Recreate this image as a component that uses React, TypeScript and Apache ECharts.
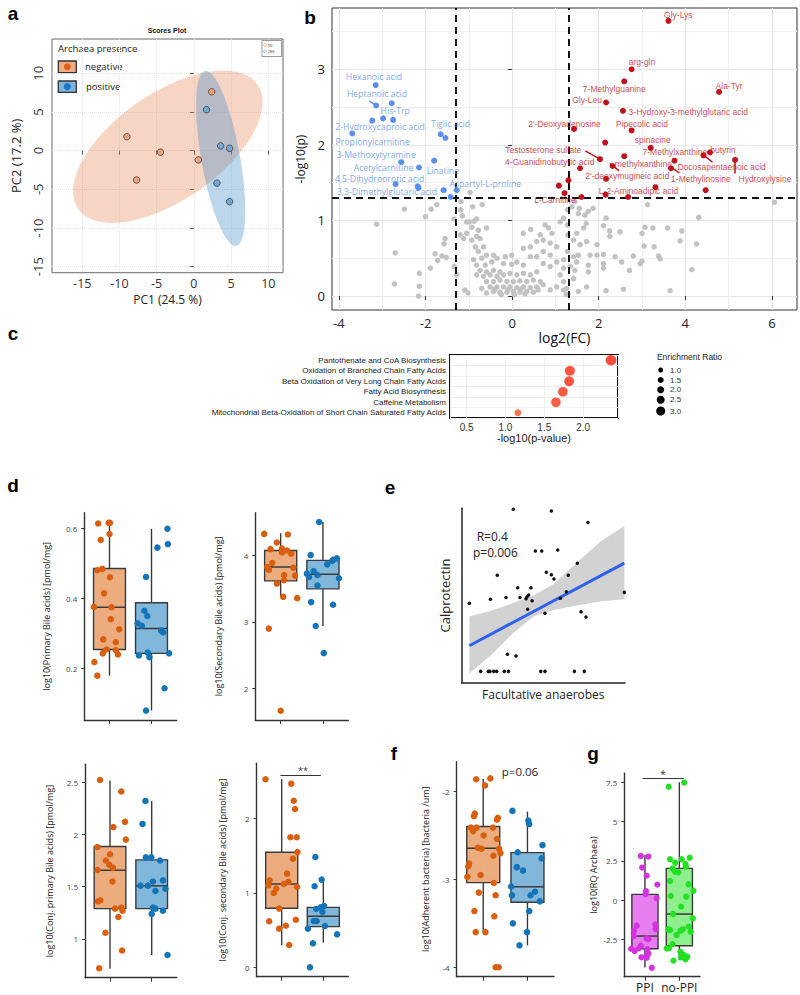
import React, { useEffect, useRef } from "react";
import * as echarts from "echarts";

/* ================= DATA ================= */
// ---- a: PCA scores plot ----
const pcaNoX = [-9.0, -7.7, -4.5, 0.6, 2.4];
const pcaNoY = [1.8, -3.8, -0.2, -1.2, 7.6];
const pcaYesX = [1.7, 3.6, 4.8, 3.1, 4.8];
const pcaYesY = [5.3, 0.6, 0.3, -4.2, -6.6];
const pcaTicks = [-15, -10, -5, 0, 5, 10];
// confidence ellipses: centre x, centre y, semi-major, semi-minor, angle (deg)
const ellipseNo = [-3.5, 0.5, 14.5, 7.0, 33];
const ellipseYes = [3.6, -1.0, 11.5, 2.6, 100.5];

// ---- b: volcano plot ----
const fcThresholds = [-1.3, 1.3];
const pThreshold = 1.301;
const volcXTicks = [-4, -2, 0, 2, 4, 6];
const volcYTicks = [0, 1, 2, 3];
const grayPts: [number, number][] = [
  [-3.13,0.95],[-2.70,0.57],[-2.72,0.16],[-2.49,1.15],[-2.14,0.30],[-2.14,0.13],[-2.16,0.0],[-2.0,1.05],[-1.87,1.15],[-1.74,1.21],
  [-1.89,0.37],[-1.78,0.56],[-1.72,0.47],[-1.62,0.53],[-1.55,0.76],[-1.57,0.69],[-1.52,0.51],[-1.34,0.39],[-1.28,0.28],[-1.34,1.02],
  [-1.18,1.25],[-1.19,1.14],[-1.15,1.06],[-1.05,0.98],[-1.09,0.08],[-1.02,0.04],[-0.97,1.37],[-0.91,1.18],[-0.69,1.21],[-0.88,0.99],
  [-0.82,1.02],[-0.99,0.98],[-0.93,0.91],[-1.05,0.83],[-1.20,0.81],[-1.12,0.76],[-0.78,0.87],[-0.59,0.90],[-0.82,0.79],[-0.74,0.76],
  [-0.93,0.74],[-0.85,0.65],[-0.66,0.65],[-0.78,0.59],[-0.59,0.54],[-0.43,0.54],[-0.70,0.50],[-0.89,0.48],[-0.82,0.41],[-0.62,0.41],
  [-0.47,0.45],[-0.35,0.50],[-0.16,0.52],[-0.01,0.54],[-0.20,0.43],[-0.01,0.42],[0.11,0.45],[0.26,0.41],[-0.74,0.34],[-0.59,0.32],
  [-0.43,0.34],[-0.28,0.32],[-0.82,0.28],[-0.66,0.26],[-0.51,0.28],[-0.35,0.26],[-0.20,0.28],[-0.05,0.30],[0.11,0.28],[0.26,0.30],
  [0.42,0.28],[0.57,0.32],[-0.59,0.19],[-0.43,0.19],[-0.28,0.21],[-0.12,0.19],[0.03,0.19],[0.18,0.20],[0.34,0.19],[0.49,0.21],
  [0.65,0.19],[-0.51,0.12],[-0.35,0.12],[-0.20,0.12],[-0.05,0.12],[0.11,0.11],[0.26,0.12],[0.42,0.11],[0.57,0.12],[0.72,0.15],
  [-0.43,0.06],[-0.28,0.05],[-0.12,0.05],[0.03,0.06],[0.18,0.05],[0.34,0.06],[0.49,0.05],[-0.59,0.04],[-0.70,0.10],[0.88,0.08],
  [1.03,0.12],[1.19,0.08],[1.25,0.02],[1.53,0.06],[1.72,0.12],[2.17,0.07],[2.57,0.09],[3.65,0.07],[0.43,0.88],[0.26,0.83],
  [0.26,0.63],[0.42,0.65],[0.57,0.72],[0.65,0.81],[0.76,0.94],[0.84,0.90],[0.92,0.83],[0.72,0.74],[0.88,0.70],[1.03,0.65],
  [0.72,0.59],[0.57,0.52],[0.88,0.54],[0.42,0.52],[1.03,0.45],[1.19,0.48],[0.72,0.43],[0.88,0.39],[1.19,0.37],[1.34,0.39],
  [1.45,0.34],[1.11,0.98],[1.19,1.03],[1.28,0.94],[1.28,1.14],[1.38,1.18],[1.45,1.25],[1.55,1.16],[1.53,1.09],[1.68,1.07],
  [1.76,1.12],[1.87,1.16],[1.71,0.96],[1.65,0.90],[1.49,0.83],[1.42,0.74],[1.57,0.68],[1.72,0.72],[1.96,0.68],[1.80,0.54],
  [1.96,0.54],[2.11,0.55],[1.53,0.54],[1.76,0.41],[1.76,0.32],[2.11,0.43],[2.11,0.37],[1.42,0.23],[1.19,0.19],[2.17,1.03],
  [2.11,0.93],[2.25,0.86],[2.26,0.79],[2.49,0.85],[2.38,0.52],[2.53,0.45],[2.71,0.34],[2.80,0.53],[2.96,0.43],[3.0,0.46],
  [3.0,0.83],[3.07,0.91],[3.05,0.66],[3.13,1.21],[3.25,0.90],[3.28,0.65],[3.38,0.53],[3.42,0.49],[3.59,0.90],[3.88,0.73],
  [3.92,0.86],[4.15,0.35],[4.26,0.69],[4.31,1.04],[6.06,1.24],[1.29,0.81],[1.28,0.59],[1.42,0.52],[1.49,0.45],[1.11,0.28],
  [1.26,0.10],[-0.25,0.02],[0.05,0.02],[0.3,0.03],[-0.4,0.09],[0.2,0.09],[-0.1,0.08],[0.6,0.08]
];
const blueX = [-3.15,-3.14,-2.78,-3.23,-2.98,-2.75,-3.69,-1.65,-1.54,-2.56,-1.80,-2.15,-2.69,-2.18,-2.16,-1.58,-1.28,-1.42];
const blueY = [2.79,2.52,2.55,2.32,2.35,2.33,2.15,2.14,2.09,1.77,1.79,1.70,1.48,1.45,1.43,1.40,1.40,1.31];
const redX = [3.61,2.76,2.59,4.78,2.17,2.56,1.43,2.76,2.15,3.20,2.59,2.03,2.32,3.75,4.42,4.57,5.15,3.67,1.57,2.17,1.30,1.08,3.31,4.47,1.21,2.16,1.60,2.68];
const redY = [3.64,3.00,2.84,2.70,2.56,2.45,2.21,2.19,2.03,1.96,1.85,1.81,1.72,1.79,1.86,1.90,1.80,1.69,1.69,1.55,1.53,1.46,1.44,1.40,1.36,1.34,1.31,1.31];
const blueLabels = ["Hexanoic acid","Heptanoic acid","His-Trp","2-Hydroxycaproic acid","Tiglic acid","Propionylcarnitine","3-Methoxytyramine","Acetylcarnitine","Linatine","4,5-Dihydroorotic acid","Aspartyl-L-proline","3,3-Dimethylglutaric acid"];
const blueLabelX = [-3.19,-3.12,-2.70,-3.05,-1.42,-3.22,-3.14,-2.97,-1.60,-3.06,-0.62,-2.89];
const blueLabelY = [2.90,2.67,2.45,2.24,2.27,2.04,1.87,1.70,1.66,1.545,1.48,1.37];
const redLabels = ["Gly-Lys","arg-gln","7-Methylguanine","Ala-Tyr","Gly-Leu","3-Hydroxy-3-methylglutaric acid","2'-Deoxyadenosine","Pipecolic acid","spinacine","7-Methylxanthine","butyrin","Testosterone sulfate","methylxanthine","4-Guanidinobutyric acid","Docosapentaenoic acid","2'-deoxymugineic acid","1-Methylinosine","Hydroxylysine","L-2-Aminoadipic acid","L-Carnitine"];
const redLabelX = [3.84,3.0,2.36,5.01,1.73,4.07,1.21,3.0,3.25,3.76,4.87,0.72,3.03,0.87,4.84,2.66,4.36,5.84,2.92,0.99];
const redLabelY = [3.72,3.09,2.74,2.78,2.59,2.43,2.28,2.28,2.06,1.90,1.93,1.93,1.75,1.77,1.71,1.59,1.55,1.55,1.39,1.27];
// label connector segments [x1, y1, x2, y2]
const blueConnectors = [[-3.30,2.58,-3.14,2.52]];
const redConnectors = [[1.69,1.92,2.03,1.81],[2.26,1.75,2.47,1.66],[4.39,1.88,4.63,1.77],[5.15,1.80,5.15,1.62],[3.65,1.71,3.86,1.63]];

// ---- c: enrichment ----
const pathwayNames = ["Pantothenate and CoA Biosynthesis","Oxidation of Branched Chain Fatty Acids","Beta Oxidation of Very Long Chain Fatty Acids","Fatty Acid Biosynthesis","Caffeine Metabolism","Mitochondrial Beta-Oxidation of Short Chain Saturated Fatty Acids"];
const pathwayLogP = [2.36, 1.83, 1.82, 1.74, 1.65, 1.16];
const pathwayRatio = [3.8, 3.5, 3.4, 3.3, 3.3, 1.9];
const pathwayColor = ["#ff1e0a", "#ff2a10", "#ff2a10", "#ff3014", "#ff3418", "#f2521c"];
const ratioLegend = [1.0, 1.5, 2.0, 2.5, 3.0];
const enrichTicks = [0.5, 1.0, 1.5, 2.0];

// ---- d: bile acids (box stats: min, q1, median, q3, max) ----
const primNegX = [0.73,0.98,1.01,1.0,0.79,0.83,0.71,1.01,0.87,0.63,1.05,1.03,1.23,0.85,1.15,0.93,1.15,0.84,1.2,0.64,0.71];
const primNegY = [0.614,0.616,0.616,0.584,0.567,0.484,0.48,0.46,0.414,0.375,0.374,0.34,0.311,0.282,0.274,0.253,0.251,0.242,0.239,0.217,0.178];
const primPosX = [2.38,2.39,2.14,1.87,1.83,1.9,1.67,1.77,2.23,2.28,1.91,1.7,1.95,2.42,2.31,1.87];
const primPosY = [0.599,0.555,0.545,0.461,0.364,0.349,0.328,0.321,0.307,0.302,0.244,0.236,0.231,0.242,0.142,0.078];
const primBoxNeg = [0.178, 0.253, 0.374, 0.485, 0.615];
const primBoxPos = [0.078, 0.242, 0.313, 0.387, 0.599];

const secNegX = [0.61,1.17,0.91,0.76,1.03,1.15,1.03,1.25,0.8,0.68,0.72,1.3,1.08,1.34,1.08,0.91,1.06,1.39,0.72,1.0];
const secNegY = [4.33,4.32,4.2,4.1,4.11,4.08,4.05,4.03,3.89,3.83,3.79,3.82,3.71,3.7,3.63,3.58,3.38,3.36,2.9,1.66];
const secPosX = [1.91,1.71,2.24,2.33,2.22,2.1,1.78,1.62,1.87,1.67,2.38,1.87,1.72,2.24,1.83,2.02];
const secPosY = [4.51,4.01,3.94,3.96,3.92,3.87,3.77,3.73,3.71,3.68,3.66,3.55,3.3,3.26,2.94,2.53];
const secBoxNeg = [3.38, 3.62, 3.83, 4.08, 4.34];
const secBoxPos = [2.94, 3.5, 3.72, 3.93, 4.51];

const cpNegX = [0.76,1.27,1.36,1.08,1.38,0.7,1.0,0.9,0.98,1.07,0.7,1.06,0.71,0.77,1.12,1.27,1.3,1.2,0.89,1.29,0.74];
const cpNegY = [2.52,2.41,2.12,2.07,1.95,1.88,1.81,1.75,1.71,1.68,1.66,1.55,1.36,1.37,1.29,1.3,1.27,1.21,1.06,0.89,0.72];
const cpPosX = [1.85,1.78,1.86,1.99,2.2,2.03,2.27,1.91,1.73,2.09,2.33,2.03,2.09,2.27,2.0,2.38];
const cpPosY = [2.32,2.1,1.78,1.78,1.75,1.55,1.56,1.51,1.51,1.46,1.48,1.3,1.29,1.27,1.24,0.847];
const cpBoxNeg = [0.716, 1.29, 1.657, 1.884, 2.516];
const cpBoxPos = [0.847, 1.29, 1.51, 1.756, 2.32];

const csNegX = [0.61,1.23,1.29,1.32,1.21,1.36,1.38,1.27,0.71,1.13,1.16,1.05,0.68,1.37,0.87,0.81,0.94,0.7,1.34,0.94,1.1,1.18];
const csNegY = [2.53,2.47,2.24,2.13,1.75,1.75,1.55,1.46,1.17,1.26,1.15,1.12,1.1,1.08,1.06,1.0,0.79,0.62,0.64,0.52,0.56,0.3];
const csPosX = [1.81,1.96,1.79,1.83,2.02,1.94,1.98,1.77,1.84,2.04,1.63,2.33,1.75,1.68];
const csPosY = [1.484,1.18,1.09,0.785,0.825,0.807,0.744,0.623,0.623,0.556,0.52,0.444,0.323,0.0];
const csBoxNeg = [0.296, 0.794, 1.121, 1.547, 2.53];
const csBoxPos = [0.332, 0.547, 0.686, 0.807, 1.166];
const csSignif = [0.97, 1.94, 2.58];

// ---- e: correlation ----
const eX = [4.7,31.6,54.9,77.3,45.1,49.0,58.8,70.8,21.8,51.8,54.9,56.5,65.3,34.3,42.4,17.6,27.1,35.7,39.4,40.0,41.0,43.1,60.4,64.1,99.6,40.4,51.0,73.1,76.1,28.0,33.3,11.6,16.3,17.3,19.6,21.4,26.1,28.6,48.4,51.0,69.0,75.1];
const eY = [45.5,99.4,98.5,91.8,75.5,75.5,76.1,68.5,61.6,63.3,61.9,59.5,61.6,54.5,54.5,47.8,48.9,48.9,48.2,49.3,50.3,47.0,48.4,52.2,51.8,42.1,39.8,40.7,37.7,16.3,15.3,6.5,6.5,6.5,6.5,6.5,6.5,6.5,6.5,6.5,6.5,6.5];
const fitX = [4.7, 99.6];
const fitY = [21.2, 68.6];
const bandX = [4.7, 17, 31, 44, 56, 72, 85, 99.6];
const bandLo = [5.4, 14.9, 28.0, 37.9, 41.7, 44.6, 46.5, 47.8];
const bandHi = [37.9, 41.0, 45.5, 50.0, 56.5, 70.0, 81.0, 89.9];

// ---- f: adherent bacteria ----
const adNegX = [0.84,1.16,1.04,0.81,0.79,1.33,1.31,0.72,0.85,0.77,1.22,1.01,1.31,0.88,0.96,1.36,1.39,1.23,0.68,0.66,0.94,0.64,1.24,0.9,1.28,0.8,1.25,0.83,1.05,1.28,1.35];
const adNegY = [-1.86,-1.85,-1.93,-2.25,-2.28,-2.3,-2.32,-2.41,-2.41,-2.45,-2.41,-2.5,-2.54,-2.64,-2.65,-2.65,-2.7,-2.73,-2.82,-2.85,-2.95,-2.97,-3.04,-3.15,-3.18,-3.36,-3.42,-3.6,-3.6,-4.0,-4.0];
const adPosX = [1.66,2.02,2.04,2.34,1.78,2.32,1.76,1.9,1.63,2.17,2.07,1.65,2.28,2.04,1.67,1.99,1.82];
const adPosY = [-2.22,-2.33,-2.37,-2.61,-2.69,-2.76,-2.86,-2.9,-3.08,-3.14,-3.18,-3.18,-3.25,-3.36,-3.5,-3.6,-3.75];
const adBoxNeg = [-3.6, -3.036, -2.645, -2.398, -1.856];
const adBoxPos = [-3.75, -3.26, -3.082, -2.695, -2.228];

// ---- g: RQ Archaea ----
const groupLabels = ["PPI", "no-PPI"];
const ppiX = [0.88,1.10,0.92,1.05,1.36,1.03,1.02,1.34,0.76,0.68,0.68,1.30,1.31,1.05,1.10,0.88,0.82,0.60,0.70,1.07,1.10,1.05,0.90,1.05,1.20];
const ppiY = [2.82,2.78,2.08,1.57,1.0,0.59,0.38,0.13,-1.61,-1.95,-2.27,-1.53,-1.82,-2.42,-2.46,-2.88,-3.05,-3.07,-3.22,-3.11,-3.37,-3.52,-3.62,-3.64,-4.28];
const noPpiX = [1.69,2.14,2.30,1.73,2.07,1.88,2.18,2.19,1.80,1.88,1.97,1.73,2.27,2.41,1.75,2.20,2.05,1.82,2.39,1.68,1.73,2.27,2.10,2.03,2.33,1.92,1.80,1.70,1.63,2.03,2.13,2.23,2.18,1.83,2.05];
const noPpiY = [7.22,7.48,2.71,2.61,2.61,2.39,2.31,2.14,2.03,1.82,1.78,1.23,1.02,0.61,0.28,0.23,-0.4,-0.87,-1.14,-1.84,-1.89,-1.67,-1.84,-1.93,-1.99,-2.2,-2.78,-3.05,-3.05,-3.26,-3.47,-3.58,-3.75,-3.83,-3.62];
const ppiBox = [-4.26, -3.07, -2.27, 0.38, 2.88];
const noPpiBox = [-3.79, -2.88, -0.87, 2.03, 7.5];
const rqSignif = [0.93, 2.13, 7.75];

/* ================= HELPERS ================= */
const SANS = "Liberation Sans";
const OPEN = "Open Sans";
const ORANGE = "#d95f0e";
const BLUE = "#1474b8";
const ORANGE_FILL = "#edac7e";
const BLUE_FILL = "#80b7da";

function pairs(xs: number[], ys: number[]) {
  return xs.map((x, i) => [x, ys[i]]);
}

function ellipseRender(fills: string[]) {
  return (params: any, api: any) => {
    const cx = api.value(0), cy = api.value(1), a = api.value(2), b = api.value(3);
    const ang = (api.value(4) * Math.PI) / 180;
    const pts: number[][] = [];
    for (let i = 0; i < 90; i++) {
      const t = (i / 90) * Math.PI * 2;
      const ex = a * Math.cos(t), ey = b * Math.sin(t);
      pts.push(api.coord([cx + ex * Math.cos(ang) - ey * Math.sin(ang), cy + ex * Math.sin(ang) + ey * Math.cos(ang)]));
    }
    return { type: "polygon", shape: { points: pts }, style: { fill: fills[params.dataIndex], stroke: "none" } };
  };
}

function boxRender(fills: string[]) {
  return (params: any, api: any) => {
    const x = api.value(0), mn = api.value(1), q1 = api.value(2), md = api.value(3), q3 = api.value(4), mx = api.value(5), hw = api.value(6);
    const pMin = api.coord([x, mn]), pQ1 = api.coord([x, q1]), pQ3 = api.coord([x, q3]), pMax = api.coord([x, mx]);
    const pL = api.coord([x - hw, q3]), pR = api.coord([x + hw, q1]);
    const mL = api.coord([x - hw, md]), mR = api.coord([x + hw, md]);
    const st = { stroke: "#3a3a3a", lineWidth: 1.4 };
    return {
      type: "group",
      children: [
        { type: "line", shape: { x1: pMin[0], y1: pMin[1], x2: pQ1[0], y2: pQ1[1] }, style: st },
        { type: "line", shape: { x1: pQ3[0], y1: pQ3[1], x2: pMax[0], y2: pMax[1] }, style: st },
        { type: "rect", shape: { x: pL[0], y: pL[1], width: pR[0] - pL[0], height: pR[1] - pL[1] }, style: { fill: fills[params.dataIndex], stroke: "#3a3a3a", lineWidth: 1.4 } },
        { type: "line", shape: { x1: mL[0], y1: mL[1], x2: mR[0], y2: mR[1] }, style: { stroke: "#3a3a3a", lineWidth: 1.5 } },
      ],
    };
  };
}

function boxAxes(gi: number, ymin: number, ymax: number, yTicks: number[], yName: string, nameGap: number, xMin: number, xMax: number, xLabels?: string[]) {
  const x: any = {
    type: "value", gridIndex: gi, min: xMin, max: xMax,
    axisLine: { show: true, onZero: false, lineStyle: { color: "#333", width: 1.4 } },
    axisTick: { show: true, customValues: [1, 2], length: 4, lineStyle: { color: "#333", width: 1 } },
    axisLabel: xLabels
      ? { show: true, customValues: [1, 2], formatter: (v: number) => xLabels[Math.round(v) - 1], fontSize: 12, color: "#222", margin: 5, fontFamily: OPEN }
      : { show: false },
    splitLine: { show: false },
  };
  const y: any = {
    type: "value", gridIndex: gi, min: ymin, max: ymax,
    name: yName, nameLocation: "middle", nameGap, nameRotate: 90,
    nameTextStyle: { fontSize: 9, color: "#222", fontFamily: OPEN },
    axisLine: { show: true, onZero: false, lineStyle: { color: "#333", width: 1.4 } },
    axisTick: { show: true, customValues: yTicks, length: 3, lineStyle: { color: "#333", width: 1 } },
    axisLabel: { show: true, customValues: yTicks, fontSize: 8, color: "#444", margin: 7, fontFamily: OPEN },
    splitLine: { show: false },
  };
  return { x, y };
}

function boxSeries(gi: number, negBox: number[], posBox: number[], hw: number, negX: number[], negY: number[], posX: number[], posY: number[], colors = [ORANGE, BLUE], fills = [ORANGE_FILL, BLUE_FILL], size = 6.5) {
  return [
    {
      type: "custom", xAxisIndex: gi, yAxisIndex: gi, renderItem: boxRender(fills), silent: true, z: 2,
      data: [[1, ...negBox, hw], [2, ...posBox, hw]],
    },
    { type: "scatter", xAxisIndex: gi, yAxisIndex: gi, data: pairs(negX, negY), symbolSize: size, itemStyle: { color: colors[0], opacity: 1 }, silent: true, z: 3 },
    { type: "scatter", xAxisIndex: gi, yAxisIndex: gi, data: pairs(posX, posY), symbolSize: size, itemStyle: { color: colors[1], opacity: 1 }, silent: true, z: 3 },
  ];
}

function labelSeries(gi: number, xs: number[], ys: number[], names: string[], color: string, font: string, size: number) {
  return {
    type: "scatter", xAxisIndex: gi, yAxisIndex: gi, symbolSize: 1, silent: true, z: 5,
    itemStyle: { color: "transparent" },
    data: xs.map((x, i) => ({ value: [x, ys[i]], name: names[i] })),
    label: { show: true, position: "inside", formatter: (p: any) => p.name, color, fontSize: size, fontFamily: font, lineHeight: size + 1 },
  };
}

function segSeries(gi: number, segs: number[][], color: string, width: number) {
  return {
    type: "lines", coordinateSystem: "cartesian2d", xAxisIndex: gi, yAxisIndex: gi, silent: true, z: 4,
    lineStyle: { color, width, opacity: 1 },
    data: segs.map((s) => ({ coords: [[s[0], s[1]], [s[2], s[3]]] })),
  };
}

function buildOption(): any {
  const dTL = boxAxes(3, 0.051, 0.645, [0.2, 0.4, 0.6], "log10(Primary Bile acids) [pmol/mg]", 33, 0.4, 2.6);
  const dTR = boxAxes(4, 1.52, 4.65, [2, 3, 4], "log10(Secondary Bile acids) [pmol/mg]", 32, 0.4, 2.6);
  const dBL = boxAxes(6, 0.63, 2.67, [1, 1.5, 2, 2.5], "log10(Conj. primary Bile acids) [pmol/mg]", 31, 0.4, 2.6);
  const dBR = boxAxes(7, -0.126, 2.744, [0, 1, 2], "log10(Conj. secondary Bile acids) [pmol/mg]", 30, 0.4, 2.6);
  const fAx = boxAxes(8, -4.107, -1.66, [-4, -3, -2], "log10(Adherent bacteria) [bacteria /um]", 27, 0.4, 2.6);
  const gAx = boxAxes(9, -4.85, 8.07, [-2.5, 0, 2.5, 5, 7.5], "log10(RQ Archaea)", 26, 0.4, 2.6, groupLabels);

  const eAxisX: any = {
    type: "value", gridIndex: 5, min: 0, max: 100, name: "Facultative anaerobes", nameLocation: "middle", nameGap: 6,
    nameTextStyle: { fontSize: 12, color: "#222", fontFamily: OPEN },
    axisLine: { show: true, onZero: false, lineStyle: { color: "#222", width: 1.5 } }, axisTick: { show: false }, axisLabel: { show: false }, splitLine: { show: false },
  };
  const eAxisY: any = {
    type: "value", gridIndex: 5, min: 0, max: 100, name: "Calprotectin", nameLocation: "middle", nameGap: 10, nameRotate: 90,
    nameTextStyle: { fontSize: 13, color: "#222", fontFamily: OPEN },
    axisLine: { show: true, onZero: false, lineStyle: { color: "#222", width: 1.5 } }, axisTick: { show: false }, axisLabel: { show: false }, splitLine: { show: false },
  };

  const xAxis: any[] = [
    // a
    {
      type: "value", gridIndex: 0, min: -19.07, max: 11.98, name: "PC1 (24.5 %)", nameLocation: "middle", nameGap: 20,
      nameTextStyle: { fontSize: 12, color: "#222", fontFamily: OPEN, lineHeight: 13 },
      axisLine: { show: false }, axisTick: { show: true, customValues: pcaTicks, length: 4, lineStyle: { color: "#555" } },
      axisLabel: { customValues: pcaTicks, fontSize: 12.5, color: "#333", margin: 4, fontFamily: OPEN, lineHeight: 13 },
      splitLine: { show: true, lineStyle: { color: "#e4e4e4", type: "dotted" } },
    },
    // b
    {
      type: "value", gridIndex: 1, min: -4.16, max: 6.58, name: "log2(FC)", nameLocation: "middle", nameGap: 20,
      nameTextStyle: { fontSize: 14, color: "#111", fontFamily: OPEN },
      axisLine: { show: false }, axisTick: { show: true, customValues: volcXTicks, length: 4, lineStyle: { color: "#333" } },
      axisLabel: { customValues: volcXTicks, fontSize: 13, color: "#222", margin: 6, fontFamily: OPEN },
      splitLine: { show: true, lineStyle: { color: "#e6e6e6", width: 1.2 } },
      minorTick: { show: false, splitNumber: 2 }, minorSplitLine: { show: true, lineStyle: { color: "#f0f0f0", width: 1 } },
    },
    // c
    {
      type: "value", gridIndex: 2, min: 0.285, max: 2.45, name: "-log10(p-value)", nameLocation: "middle", nameGap: 13,
      nameTextStyle: { fontSize: 11, color: "#222", fontFamily: SANS },
      axisLine: { show: false }, axisTick: { show: false },
      axisLabel: { customValues: enrichTicks, formatter: (v: number) => v.toFixed(1), fontSize: 10, color: "#333", margin: 4, fontFamily: SANS },
      splitLine: { show: true, lineStyle: { color: "#efefef" } },
    },
    dTL.x, dTR.x, eAxisX, dBL.x, dBR.x, fAx.x, gAx.x,
  ];
  const yAxis: any[] = [
    {
      type: "value", gridIndex: 0, min: -15.78, max: 14.43, name: "PC2 (17.2 %)", nameLocation: "middle", nameGap: 30, nameRotate: 90,
      nameTextStyle: { fontSize: 13, color: "#222", fontFamily: OPEN },
      axisLine: { show: false }, axisTick: { show: true, customValues: pcaTicks, length: 4, lineStyle: { color: "#555" } },
      axisLabel: { customValues: pcaTicks, rotate: 90, fontSize: 13, color: "#333", margin: 8, fontFamily: OPEN },
      splitLine: { show: true, lineStyle: { color: "#e4e4e4", type: "dotted" } },
    },
    {
      type: "value", gridIndex: 1, min: -0.185, max: 3.81, name: "-log10(p)", nameLocation: "middle", nameGap: 20, nameRotate: 90,
      nameTextStyle: { fontSize: 12, color: "#111", fontFamily: OPEN },
      axisLine: { show: false }, axisTick: { show: true, customValues: volcYTicks, length: 4, lineStyle: { color: "#333" } },
      axisLabel: { customValues: volcYTicks, fontSize: 13, color: "#222", margin: 7, fontFamily: OPEN },
      splitLine: { show: true, lineStyle: { color: "#e6e6e6", width: 1.2 } },
      minorTick: { show: false, splitNumber: 2 }, minorSplitLine: { show: true, lineStyle: { color: "#f0f0f0", width: 1 } },
    },
    {
      type: "category", gridIndex: 2, data: pathwayNames, inverse: true,
      axisLine: { show: false }, axisTick: { show: false },
      axisLabel: { fontSize: 8, color: "#222", margin: 4, fontFamily: SANS },
      splitLine: { show: true, lineStyle: { color: "#efefef" } },
    },
    dTL.y, dTR.y, eAxisY, dBL.y, dBR.y, fAx.y, gAx.y,
  ];

  const grid = [
    { left: 52, top: 39, width: 231, height: 233.7, show: true, borderColor: "#6a6a6a", borderWidth: 1 },
    { left: 332, top: 8, width: 465, height: 302, show: true, borderColor: "#333", borderWidth: 1 },
    { left: 450, top: 355, width: 168, height: 63, show: true, borderColor: "#111", borderWidth: 2 },
    { left: 84.3, top: 512.7, width: 92.4, height: 207.3 },
    { left: 255.3, top: 512.7, width: 93, height: 207.3 },
    { left: 461.7, top: 508.3, width: 163.3, height: 174.4 },
    { left: 85, top: 764.3, width: 91.7, height: 213.4 },
    { left: 256.7, top: 763.3, width: 91.6, height: 213.4 },
    { left: 456.7, top: 761.7, width: 97.3, height: 215 },
    { left: 624.3, top: 773.3, width: 75.7, height: 203.4 },
  ];

  const series: any[] = [
    // ---- a ----
    { type: "custom", xAxisIndex: 0, yAxisIndex: 0, silent: true, z: 1, renderItem: ellipseRender(["rgba(232,128,80,0.33)", "rgba(70,140,200,0.36)"]), data: [ellipseNo, ellipseYes] },
    { type: "scatter", xAxisIndex: 0, yAxisIndex: 0, silent: true, z: 3, symbolSize: 6.5, data: pairs(pcaNoX, pcaNoY), itemStyle: { color: "#f0a07c", borderColor: "#4a4a4a", borderWidth: 0.9, opacity: 1 } },
    { type: "scatter", xAxisIndex: 0, yAxisIndex: 0, silent: true, z: 3, symbolSize: 6.5, data: pairs(pcaYesX, pcaYesY), itemStyle: { color: "#70a8d6", borderColor: "#4a4a4a", borderWidth: 0.9, opacity: 1 } },
    // ---- b ----
    {
      type: "scatter", xAxisIndex: 1, yAxisIndex: 1, silent: true, z: 2, symbolSize: 5.5, data: grayPts, itemStyle: { color: "#c2c2c2", opacity: 1 },
      markLine: {
        silent: true, symbol: ["none", "none"], label: { show: false }, z: 3,
        lineStyle: { color: "#111", width: 2, type: [7, 5] },
        data: [{ xAxis: fcThresholds[0] }, { xAxis: fcThresholds[1] }, { yAxis: pThreshold }],
      },
    },
    { type: "scatter", xAxisIndex: 1, yAxisIndex: 1, silent: true, z: 3, symbolSize: 6, data: pairs(blueX, blueY), itemStyle: { color: "#5a8ff0", opacity: 1 } },
    { type: "scatter", xAxisIndex: 1, yAxisIndex: 1, silent: true, z: 3, symbolSize: 6, data: pairs(redX, redY), itemStyle: { color: "#c0121b", opacity: 1 } },
    segSeries(1, blueConnectors, "#5a8ff0", 1.5),
    segSeries(1, redConnectors, "#c0121b", 1.5),
    labelSeries(1, blueLabelX, blueLabelY, blueLabels, "#5a8ff0", OPEN, 8.7),
    labelSeries(1, redLabelX, redLabelY, redLabels, "#c0121b", SANS, 8.5),
    // ---- c ----
    {
      type: "scatter", xAxisIndex: 2, yAxisIndex: 2, silent: true, z: 3,
      data: pathwayLogP.map((v, i) => ({ value: [v, i], itemStyle: { color: pathwayColor[i] } })),
      symbolSize: (_v: any, p: any) => 3 + 2 * pathwayRatio[p.dataIndex],
    },
    // ---- d ----
    ...boxSeries(3, primBoxNeg, primBoxPos, 0.38, primNegX, primNegY, primPosX, primPosY),
    ...boxSeries(4, secBoxNeg, secBoxPos, 0.38, secNegX, secNegY, secPosX, secPosY),
    ...boxSeries(6, cpBoxNeg, cpBoxPos, 0.38, cpNegX, cpNegY, cpPosX, cpPosY),
    ...boxSeries(7, csBoxNeg, csBoxPos, 0.385, csNegX, csNegY, csPosX, csPosY),
    segSeries(7, [[csSignif[0], csSignif[2], csSignif[1], csSignif[2]]], "#333", 1.2),
    // ---- e ----
    {
      type: "custom", xAxisIndex: 5, yAxisIndex: 5, silent: true, z: 1, data: [[bandX[0], bandLo[0]]],
      renderItem: (_p: any, api: any) => {
        const pts = bandX.map((x, i) => api.coord([x, bandHi[i]])).concat(bandX.map((x, i) => api.coord([x, bandLo[i]])).reverse());
        return { type: "polygon", shape: { points: pts }, style: { fill: "#d2d2d2", stroke: "none" } };
      },
    },
    { type: "line", xAxisIndex: 5, yAxisIndex: 5, silent: true, z: 2, data: pairs(fitX, fitY), showSymbol: false, lineStyle: { color: "#2f62ec", width: 3 } },
    { type: "scatter", xAxisIndex: 5, yAxisIndex: 5, silent: true, z: 3, symbolSize: 3.5, data: pairs(eX, eY), itemStyle: { color: "#111", opacity: 1 } },
    // ---- f ----
    ...boxSeries(8, adBoxNeg, adBoxPos, 0.373, adNegX, adNegY, adPosX, adPosY),
    // ---- g ----
    ...boxSeries(9, ppiBox, noPpiBox, 0.38, ppiX, ppiY, noPpiX, noPpiY, ["#d633e0", "#22e022"], ["#e67ef0", "#8df08d"], 6.3),
    segSeries(9, [[rqSignif[0], rqSignif[2], rqSignif[1], rqSignif[2]]], "#333", 1.2),
  ];

  const letter = (t: string, x: number, y: number) => ({
    type: "text", x, y, style: { text: t, fill: "#000", fontSize: 19, fontWeight: "bold", fontFamily: SANS, align: "center", verticalAlign: "middle" },
  });
  const txt = (t: string, x: number, y: number, size: number, opts: any = {}) => ({
    type: "text", x, y, style: { text: t, fill: opts.fill || "#222", fontSize: size, lineHeight: size + 1, fontFamily: opts.font || OPEN, fontWeight: opts.weight || "normal", align: opts.align || "center", verticalAlign: "middle" },
  });

  const legendY = [370, 380, 389.7, 399.7, 411];
  const graphic: any[] = [
    letter("a", 13, 13), letter("b", 310, 17), letter("c", 13, 333), letter("d", 13, 485),
    letter("e", 390, 487), letter("f", 394, 753), letter("g", 593, 753),
    // a: title and legends
    txt("Scores Plot", 167, 30, 7, { weight: "bold", font: SANS, fill: "#111" }),
    txt("Archaea presence", 58, 48, 9.5, { align: "left" }),
    { type: "rect", shape: { x: 58.3, y: 61, width: 18, height: 11.7 }, style: { fill: "#f2ab85", stroke: "#333", lineWidth: 1.3 } },
    { type: "circle", shape: { cx: 67.3, cy: 66.8, r: 3.5 }, style: { fill: "#e0601c" } },
    txt("negative", 85, 66, 9.5, { align: "left" }),
    { type: "rect", shape: { x: 58.3, y: 81, width: 18, height: 11.3 }, style: { fill: "#80b4dc", stroke: "#333", lineWidth: 1.3 } },
    { type: "circle", shape: { cx: 67.3, cy: 86.6, r: 3.5 }, style: { fill: "#1a78c8" } },
    txt("positive", 86, 86, 9.5, { align: "left" }),
    { type: "rect", shape: { x: 262, y: 40.5, width: 19.5, height: 16 }, style: { fill: "#fff", stroke: "#555", lineWidth: 0.6 } },
    { type: "circle", shape: { cx: 265, cy: 45, r: 1.4 }, style: { fill: "none", stroke: "#f0a07c", lineWidth: 0.8 } },
    txt("no", 267.5, 45, 4.5, { align: "left", font: SANS, fill: "#555" }),
    { type: "circle", shape: { cx: 265, cy: 51.5, r: 1.4 }, style: { fill: "none", stroke: "#70a8d6", lineWidth: 0.8 } },
    txt("yes", 267.5, 51.5, 4.5, { align: "left", font: SANS, fill: "#555" }),
    // c: size legend
    txt("Enrichment Ratio", 689.5, 356.7, 8.5, { font: SANS, fill: "#222" }),
    ...ratioLegend.map((r, i) => ({ type: "circle", shape: { cx: 660.7, cy: legendY[i], r: (3 + 2 * r) / 2 }, style: { fill: "#000" } })),
    ...ratioLegend.map((r, i) => txt(r.toFixed(1), 670, legendY[i], 8, { align: "left", font: SANS, fill: "#333" })),
    // e annotation
    txt("R=0.4", 476.7, 536, 12, { align: "left" }),
    txt("p=0.006", 473, 552, 12, { align: "left" }),
    // f annotation
    txt("p=0.06", 520, 771.7, 11.5),
    // significance stars
    txt("**", 303, 770.5, 9, { fill: "#333" }),
    txt("*", 663, 774, 10, { fill: "#333" }),
  ];

  return {
    animation: false,
    backgroundColor: "#fff",
    textStyle: { fontFamily: OPEN },
    grid, xAxis, yAxis, series, graphic,
  };
}

export default function App() {
  const ref = useRef<HTMLDivElement>(null);
  useEffect(() => {
    if (!ref.current) return;
    const chart = echarts.init(ref.current, undefined, { renderer: "svg" });
    chart.setOption(buildOption());
    return () => chart.dispose();
  }, []);
  return <div ref={ref} style={{ position: "absolute", left: 0, top: 0, width: 800, height: 995 }} />;
}
